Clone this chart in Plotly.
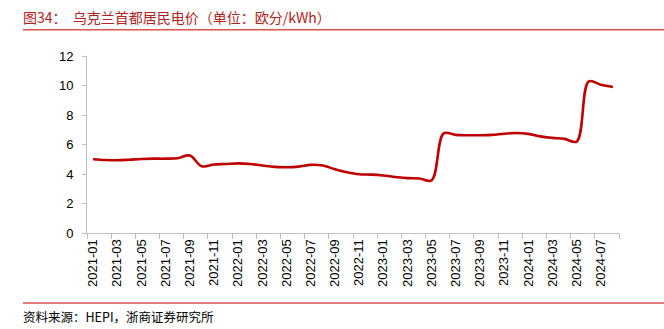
import plotly.graph_objects as go

# Monthly residential electricity price, Kyiv (euro cents per kWh), 2021-01 .. 2024-08
months = [f"{y}-{m:02d}" for y in (2021, 2022, 2023, 2024) for m in range(1, 13)][:44]
price = [
    5.00, 4.95, 4.93, 4.97, 5.02, 5.04, 5.04, 5.07, 5.25, 4.52, 4.64, 4.68,
    4.72, 4.68, 4.58, 4.48, 4.46, 4.50, 4.62, 4.58, 4.33, 4.12, 3.98, 3.96,
    3.90, 3.80, 3.72, 3.70, 3.57, 6.75, 6.65, 6.63, 6.63, 6.65, 6.73, 6.78,
    6.72, 6.55, 6.45, 6.38, 6.20, 10.28, 10.05, 9.90,
]
yticks = [0, 2, 4, 6, 8, 10, 12]

title_text = "图34：  乌克兰首都居民电价（单位：欧分/kWh）"
source_text = "资料来源：HEPI，浙商证券研究所"

W, H = 664, 329
L, R, T, B = 87, 45, 56, 96
pw, ph = W - L - R, H - T - B


def px_x(p):
    return (p - L) / pw


def px_y(p):
    return (H - B - p) / ph


axis_grey = "#BFBFBF"
tick_font = dict(family="Liberation Sans, Arial, sans-serif", size=13, color="#000000")
cjk = "Noto Sans CJK SC, sans-serif"

fig = go.Figure(
    go.Scatter(
        x=months,
        y=price,
        mode="lines",
        line=dict(color="#C00000", width=2.6, shape="spline", smoothing=1.0),
        hoverinfo="skip",
    )
)

fig.update_layout(
    width=W,
    height=H,
    margin=dict(l=L, r=R, t=T, b=B, pad=0),
    paper_bgcolor="white",
    plot_bgcolor="white",
    showlegend=False,
    xaxis=dict(
        type="category",
        categoryorder="array",
        categoryarray=months,
        range=[-0.5, len(months) - 0.5],
        tickmode="linear",
        tick0=0,
        dtick=2,
        tickson="boundaries",
        ticks="outside",
        ticklen=5,
        tickcolor=axis_grey,
        tickangle=-90,
        tickfont=tick_font,
        showline=True,
        linecolor=axis_grey,
        linewidth=1,
        showgrid=False,
        zeroline=False,
    ),
    yaxis=dict(
        range=[0, 12],
        tickvals=yticks,
        ticks="outside",
        ticklen=4,
        tickcolor=axis_grey,
        tickfont=tick_font,
        showline=True,
        linecolor=axis_grey,
        linewidth=1,
        showgrid=False,
        zeroline=False,
        ticklabelstandoff=6,
    ),
)

# header and footer rules
fig.add_shape(type="line", xref="paper", yref="paper",
              x0=px_x(23), x1=px_x(W), y0=px_y(29.7), y1=px_y(29.7),
              line=dict(color="#D9534F", width=1.5))
fig.add_shape(type="line", xref="paper", yref="paper",
              x0=px_x(23), x1=px_x(W), y0=px_y(303), y1=px_y(303),
              line=dict(color="#D9534F", width=1.5))

fig.add_annotation(text=title_text, xref="paper", yref="paper",
                   x=px_x(21), y=px_y(17), xanchor="left", yanchor="middle",
                   showarrow=False, font=dict(family=cjk, size=14, color="#B22222"))
fig.add_annotation(text=source_text, xref="paper", yref="paper",
                   x=px_x(21), y=px_y(316), xanchor="left", yanchor="middle",
                   showarrow=False, font=dict(family=cjk, size=12.5, color="#000000"))

fig.write_html("out.html")
